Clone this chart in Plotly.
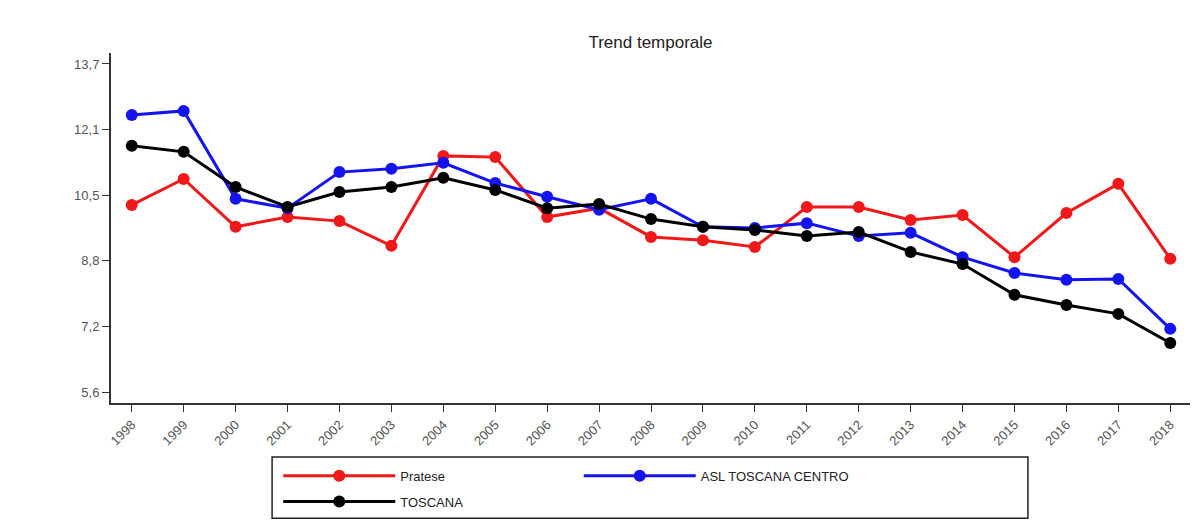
import plotly.graph_objs as go

years = list(range(1998, 2019))

pratese = [10.22, 10.86, 9.68, 9.92, 9.82, 9.21, 11.43, 11.40, 9.92, 10.14, 9.43,
           9.35, 9.18, 10.17, 10.17, 9.85, 9.97, 8.93, 10.02, 10.74, 8.89]
asl_centro = [12.44, 12.54, 10.37, 10.14, 11.03, 11.11, 11.26, 10.76, 10.42, 10.10, 10.37,
              9.68, 9.65, 9.77, 9.45, 9.53, 8.93, 8.54, 8.37, 8.39, 7.16]
toscana = [11.68, 11.53, 10.66, 10.17, 10.54, 10.66, 10.89, 10.59, 10.14, 10.24, 9.87,
           9.68, 9.60, 9.45, 9.55, 9.06, 8.76, 8.00, 7.75, 7.53, 6.81]

y_ticks = [5.6, 7.22, 8.84, 10.46, 12.08, 13.7]
y_labels = ["5,6", "7,2", "8,8", "10,5", "12,1", "13,7"]

# name, values, colour, which legend box column
series = [
    ("Pratese", pratese, "#f01818", "legend"),
    ("ASL TOSCANA CENTRO", asl_centro, "#1414f0", "legend2"),
    ("TOSCANA", toscana, "#000000", "legend"),
]

fig = go.Figure()
for name, values, color, leg in series:
    fig.add_trace(
        go.Scatter(x=years, y=values, name=name, mode="lines+markers",
                   legend=leg, legendgroup=name,
                   line=dict(color=color, width=3),
                   marker=dict(color=color, size=12))
    )

legend_style = dict(
    orientation="v", xanchor="left", yanchor="top", y=-0.165,
    bgcolor="rgba(0,0,0,0)", borderwidth=0,
    font=dict(size=13, color="#222222"),
    traceorder="grouped", tracegroupgap=6, itemwidth=112,
)

fig.update_layout(
    width=1195, height=522,
    margin=dict(l=103, r=13, t=45, b=127),
    paper_bgcolor="white", plot_bgcolor="white",
    font=dict(family="Liberation Sans, Arial, sans-serif", size=13, color="#333333"),
    title=dict(text="Trend temporale", xref="paper", x=0.5, xanchor="center",
               yref="container", y=0.935, yanchor="middle",
               font=dict(size=17, color="#222222")),
    showlegend=True,
    legend=dict(x=0.155, **legend_style),
    legend2=dict(x=0.4335, **legend_style),
    # box around the two legend columns
    shapes=[dict(type="rect", xref="paper", yref="paper",
                 x0=0.1493, x1=0.8498, y0=-0.154, y1=-0.329,
                 line=dict(color="#222222", width=1.5))],
    xaxis=dict(
        range=[1997.6, 2018.38], tickvals=years, ticktext=[str(y) for y in years],
        tickangle=-45, showgrid=False, zeroline=False,
        showline=True, linecolor="#333333", linewidth=2,
        ticks="outside", ticklen=7, tickcolor="#333333",
        tickfont=dict(size=13, color="#555555"),
    ),
    yaxis=dict(
        range=[5.33, 13.97], tickvals=y_ticks, ticktext=y_labels,
        showgrid=False, zeroline=False,
        showline=True, linecolor="#333333", linewidth=2,
        ticks="outside", ticklen=7, tickcolor="#333333",
        tickfont=dict(size=13, color="#555555"),
    ),
)

fig.write_html("out.html")
